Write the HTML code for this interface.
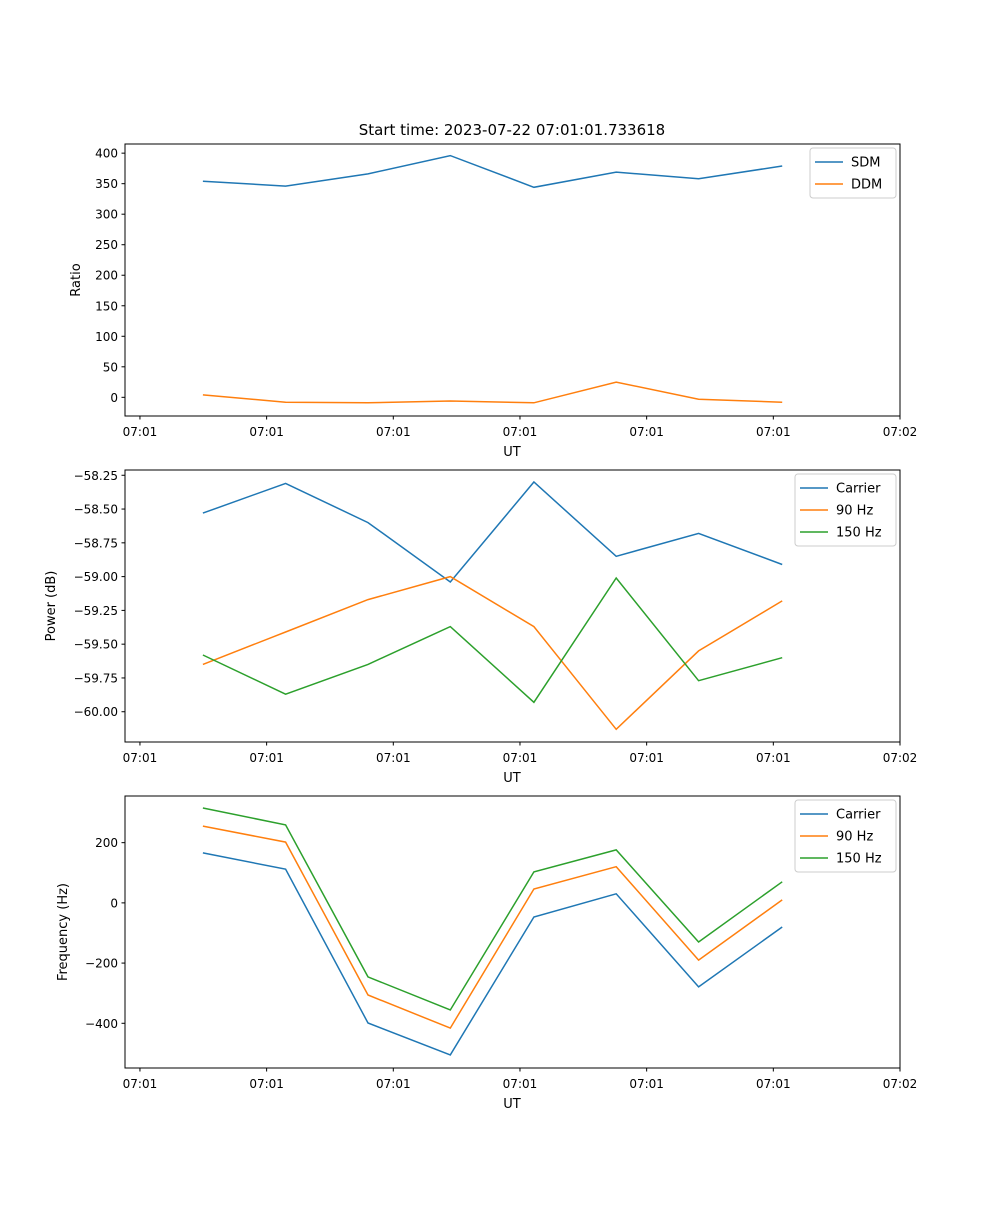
<!DOCTYPE html>
<html><head><meta charset="utf-8"><style>
body{margin:0;background:#fff}
svg{font-family:"DejaVu Sans","Liberation Sans",sans-serif}
</style></head><body>
<svg id="fig" width="1000" height="1200" viewBox="0 0 1000 1200">
<rect width="1000" height="1200" fill="#fff"/>
<text x="512" y="135" font-size="15" text-anchor="middle">Start time: 2023-07-22 07:01:01.733618</text>
</svg>
<script>
const xSeconds = [4.97, 11.5, 18.0, 24.5, 31.1, 37.6, 44.1, 50.7];
const xTickVals = [0, 10, 20, 30, 40, 50, 60];
const xTickLabels = ["07:01","07:01","07:01","07:01","07:01","07:01","07:02"];
const sdm = [354, 346, 366, 396, 344, 369, 358, 379];
const ddm = [4, -8, -9, -6, -9, 25, -3, -8];
const ratioTicks = [0, 50, 100, 150, 200, 250, 300, 350, 400];
const pwrCarrier = [-58.53, -58.31, -58.60, -59.04, -58.30, -58.85, -58.68, -58.91];
const pwr90 = [-59.65, -59.41, -59.17, -59.00, -59.37, -60.13, -59.55, -59.18];
const pwr150 = [-59.58, -59.87, -59.65, -59.37, -59.93, -59.01, -59.77, -59.60];
const pwrTicks = [-58.25, -58.5, -58.75, -59.0, -59.25, -59.5, -59.75, -60.0];
const frqCarrier = [166, 112, -399, -505, -47, 30, -279, -80];
const frq90 = [255, 202, -306, -416, 46, 120, -190, 10];
const frq150 = [315, 259, -246, -356, 103, 176, -130, 70];
const frqTicks = [-400, -200, 0, 200];

const NS = "http://www.w3.org/2000/svg";
const svg = document.getElementById('fig');
function mk(tag, attrs, parent){const e=document.createElementNS(NS,tag);for(const k in attrs)e.setAttribute(k,attrs[k]);(parent||svg).appendChild(e);return e;}
const L=125,R=900,xMin=-1.18,xMax=60;
function xs(v){return L+(v-xMin)/(xMax-xMin)*(R-L);}
function fmt(v,d){const s=v.toFixed(d);return v<0?'\u2212'+s.slice(1):s;}

function panel(name, top, yMin, yMax, ticks, dec, ylabel, series, legend){
  const bot=top+272;
  const ys=v=>bot-(v-yMin)/(yMax-yMin)*272;
  const g=mk('g',{});
  
  
  series.forEach(s=>{
    const p=mk('polyline',{points:s.vals.map((v,i)=>xs(xSeconds[i]).toFixed(1)+','+ys(v).toFixed(1)).join(' '),fill:'none',stroke:s.color,'stroke-width':1.5},g);
    
    
  });
  const fr=mk('rect',{x:L,y:top,width:R-L,height:272,fill:'none',stroke:'#000','stroke-width':1},g);
  
  
  xTickVals.forEach((v,i)=>{
    const x=xs(v);
    mk('line',{x1:x,x2:x,y1:bot,y2:bot+3.5,stroke:'#000'},g);
    const t=mk('text',{x:x,y:bot+20,'font-size':12,'text-anchor':'middle'},g);
    t.textContent=xTickLabels[i];
    
    
  });
  const xl=mk('text',{x:512,y:bot+40,'font-size':13,'text-anchor':'middle'},g);
  xl.textContent='UT';
  
  
  ticks.forEach(v=>{
    const y=ys(v);
    mk('line',{x1:L-3.5,x2:L,y1:y,y2:y,stroke:'#000'},g);
    const t=mk('text',{x:L-7,y:y+4.5,'font-size':12,'text-anchor':'end'},g);
    t.textContent=fmt(v,dec);
    
    
  });
  const yl=mk('text',{x:legend.ylx,y:top+136,'font-size':13,'text-anchor':'middle',transform:`rotate(-90 ${legend.ylx} ${top+136})`},g);
  yl.textContent=ylabel;
  
  
  const lx=legend.x, ly=top+4, lh=series.length*22+6;
  const lb=mk('rect',{x:lx,y:ly,width:R-4-lx,height:lh,rx:3,fill:'#fff','fill-opacity':0.8,stroke:'#ccc'},g);
  
  
  series.forEach((s,i)=>{
    const y=ly+14+i*22;
    mk('line',{x1:lx+5,x2:lx+33,y1:y,y2:y,stroke:s.color,'stroke-width':1.5},g);
    const t=mk('text',{x:lx+41,y:y+4.5,'font-size':13},g);
    t.textContent=s.label;
    
    
  });
}
const B='#1f77b4',O='#ff7f0e',G='#2ca02c';
panel('ratio-panel',144,-30.6,415,ratioTicks,0,'Ratio',
  [{id:'sdm-line',vals:sdm,color:B,label:'SDM'},{id:'ddm-line',vals:ddm,color:O,label:'DDM'}],{x:810,ylx:80});
panel('power-panel',470,-60.224,-58.211,pwrTicks,2,'Power (dB)',
  [{id:'carrier-power-line',vals:pwrCarrier,color:B,label:'Carrier'},{id:'90hz-power-line',vals:pwr90,color:O,label:'90 Hz'},{id:'150hz-power-line',vals:pwr150,color:G,label:'150 Hz'}],{x:795,ylx:55});
panel('frequency-panel',796,-548.5,355,frqTicks,0,'Frequency (Hz)',
  [{id:'carrier-freq-line',vals:frqCarrier,color:B,label:'Carrier'},{id:'90hz-freq-line',vals:frq90,color:O,label:'90 Hz'},{id:'150hz-freq-line',vals:frq150,color:G,label:'150 Hz'}],{x:795,ylx:67});
</script>
</body></html>
